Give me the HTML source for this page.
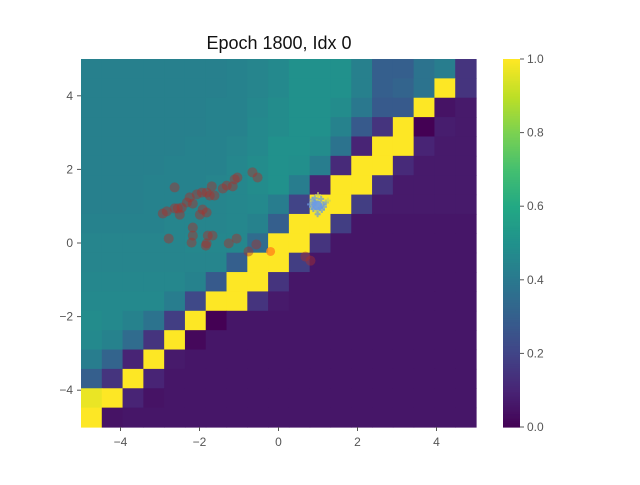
<!DOCTYPE html>
<html><head><meta charset="utf-8"><style>
body{margin:0;background:#fff;}
svg text{font-family:"Liberation Sans","DejaVu Sans",sans-serif;}
</style></head><body>
<svg id="chart" width="640" height="480" xmlns="http://www.w3.org/2000/svg">
<rect width="640" height="480" fill="#fff"/>
<text x="279" y="49" text-anchor="middle" font-size="18" fill="#111">Epoch 1800, Idx 0</text>
<g id="cells"></g><g id="pts"></g><g id="axes"></g><g id="cbar"></g>
</svg>
<script>
const gridRows = [
[.43,.43,.43,.43,.43,.43,.43,.44,.45,.47,.5,.5,.5,.43,.3,.3,.38,.42,.15],
[.43,.43,.43,.43,.43,.43,.43,.44,.45,.47,.5,.5,.5,.43,.3,.32,.38,1,.15],
[.43,.43,.43,.43,.43,.43,.44,.44,.46,.48,.5,.5,.48,.4,.28,.28,1,.05,.07],
[.43,.43,.43,.43,.43,.43,.44,.44,.47,.48,.5,.5,.44,.28,.15,1,0,.08,.07],
[.43,.43,.43,.43,.43,.44,.44,.45,.47,.5,.5,.48,.38,.1,1,1,.1,.07,.07],
[.43,.43,.43,.43,.44,.44,.44,.46,.48,.5,.49,.42,.12,1,1,.12,.07,.07,.07],
[.43,.43,.43,.44,.44,.44,.45,.46,.48,.5,.42,.1,1,1,.15,.07,.07,.07,.07],
[.43,.43,.43,.44,.44,.45,.45,.46,.47,.42,.2,1,1,.18,.07,.07,.07,.07,.07],
[.44,.44,.44,.44,.45,.45,.45,.46,.44,.3,1,1,.18,.06,.06,.06,.06,.06,.06],
[.45,.45,.45,.45,.45,.46,.46,.46,.35,1,1,.15,.06,.06,.06,.06,.06,.06,.06],
[.45,.45,.45,.45,.45,.45,.45,.3,1,1,.18,.06,.06,.06,.06,.06,.06,.06,.06],
[.46,.46,.46,.46,.46,.44,.28,1,1,.15,.06,.06,.06,.06,.06,.06,.06,.06,.06],
[.47,.47,.47,.47,.42,.22,1,1,.15,.07,.06,.06,.06,.06,.06,.06,.06,.06,.06],
[.48,.47,.44,.38,.18,1,0,.06,.06,.06,.06,.06,.06,.06,.06,.06,.06,.06,.06],
[.47,.44,.35,.15,1,.02,.06,.06,.06,.06,.06,.06,.06,.06,.06,.06,.06,.06,.06],
[.42,.32,.1,1,.07,.06,.06,.06,.06,.06,.06,.06,.06,.06,.06,.06,.06,.06,.06],
[.3,.15,1,.1,.06,.06,.06,.06,.06,.06,.06,.06,.06,.06,.06,.06,.06,.06,.06],
[.97,1,.1,.05,.06,.06,.06,.06,.06,.06,.06,.06,.06,.06,.06,.06,.06,.06,.06],
[1,.05,.06,.06,.06,.06,.06,.06,.06,.06,.06,.06,.06,.06,.06,.06,.06,.06,.06]
];
const redX = [-2.63,-0.66,-0.53,-1.04,-1.11,-1.16,-1.31,-1.41,-1.62,-1.69,-1.74,-1.82,-1.94,-2.07,-2.25,-2.17,-2.32,-2.45,-2.55,-2.63,-2.83,-2.93,-2.5,-1.92,-1.82,-1.99,-2.17,-2.17,-2.78,-1.79,-1.67,-1.06,-2.2,-1.82,-1.84,-1.26,-0.56,-0.76,0.68,0.81];
const redY = [1.51,1.92,1.78,1.78,1.73,1.54,1.56,1.48,1.29,1.54,1.29,1.37,1.37,1.32,1.24,1.07,1.1,0.96,0.94,0.94,0.86,0.8,0.77,0.91,0.83,0.77,0.42,0.2,0.12,0.2,0.2,0.12,0.01,-0.01,-0.07,-0.01,-0.04,-0.23,-0.37,-0.48];
const orangeX = [-0.2], orangeY = [-0.23];
const blueX = [0.98,0.9,1.05,1.0,0.85,1.12,0.95,1.08,0.92,1.02,0.8,1.2,0.97,1.1,0.88,1.0,1.15,0.93,1.04,0.99,0.86,1.25];
const blueY = [1.02,1.1,0.95,1.15,0.98,1.05,0.88,1.2,1.22,0.85,1.05,1.1,1.0,0.9,0.92,1.3,0.98,1.08,1.07,0.78,1.18,1.15];
const xTicks = [-4,-2,0,2,4], yTicks = [4,2,0,-2,-4], cTicks = [0,0.2,0.4,0.6,0.8,1.0];

const L=81,R=476,T=59,B=427;
const sx=v=>L+(v+5)/10*(R-L), sy=v=>T+(5-v)/10*(B-T);
const stops=[[68,1,84],[72,36,117],[65,68,135],[53,95,141],[42,120,142],[33,145,140],[34,168,132],[68,191,112],[122,209,81],[189,223,38],[253,231,37]];
function vir(t){t=Math.max(0,Math.min(1,t));const f=t*10,i=Math.min(9,Math.floor(f)),u=f-i;const a=stops[i],b=stops[i+1];
return `rgb(${Math.round(a[0]+(b[0]-a[0])*u)},${Math.round(a[1]+(b[1]-a[1])*u)},${Math.round(a[2]+(b[2]-a[2])*u)})`;}
const NS='http://www.w3.org/2000/svg';
function mk(tag,attrs,parent){const e=document.createElementNS(NS,tag);for(const k in attrs)e.setAttribute(k,attrs[k]);parent.appendChild(e);return e;}
const cells=document.getElementById('cells');
const n=gridRows.length, cw=(R-L)/n, ch=(B-T)/n;
gridRows.forEach((row,r)=>row.forEach((v,c)=>{
 const e=mk('rect',{x:L+c*cw,y:T+r*ch,width:cw+0.6,height:ch+0.6,fill:vir(v)},cells);
 
 
}));
const pts=document.getElementById('pts');
redX.forEach((x,i)=>{
 const e=mk('circle',{cx:sx(x),cy:sy(redY[i]),r:5,fill:'#a8302c','fill-opacity':0.45,stroke:'none'},pts);
 
 
});
orangeX.forEach((x,i)=>{
 const e=mk('circle',{cx:sx(x),cy:sy(orangeY[i]),r:4.5,fill:'#ff8c1a','fill-opacity':0.85},pts);
 
 
});
blueX.forEach((x,i)=>{
 const px=sx(x),py=sy(blueY[i]);
 const e=mk('path',{d:`M${px-3},${py}h6M${px},${py-3}v6`,stroke:i%3==0?'#c8d060':'#6a9ae0','stroke-width':2,'stroke-opacity':0.7},pts);
 
 
});
const blob=mk('circle',{cx:sx(0.98),cy:sy(1.02),r:5,fill:'#6a9ae8','fill-opacity':0.9},pts);


const ax=document.getElementById('axes');
xTicks.forEach(t=>{
 const x=sx(t);
 mk('line',{x1:x,x2:x,y1:B,y2:B+4,stroke:'#555'},ax);
 const e=mk('text',{x:x,y:B+19,'text-anchor':'middle','font-size':12,fill:'#555'},ax);
 e.textContent=t<0?'\u2212'+(-t):t;
 
 
});
yTicks.forEach(t=>{
 const y=sy(t);
 mk('line',{x1:L-4,x2:L,y1:y,y2:y,stroke:'#555'},ax);
 const e=mk('text',{x:L-8,y:y+4,'text-anchor':'end','font-size':12,fill:'#555'},ax);
 e.textContent=t<0?'\u2212'+(-t):t;
 
 
});
const cb=document.getElementById('cbar');
const CL=503,CR=520;
for(let i=0;i<200;i++){const y0=T+(B-T)*i/200;mk('rect',{x:CL,y:y0,width:CR-CL,height:(B-T)/200+0.6,fill:vir(1-i/200)},cb);}
cTicks.forEach(t=>{
 const y=B-(B-T)*t;
 mk('line',{x1:CR,x2:CR+4,y1:y,y2:y,stroke:'#555'},cb);
 const e=mk('text',{x:CR+7,y:y+4,'font-size':12,fill:'#555'},cb);
 e.textContent=t.toFixed(1);
 
 
});
</script>
</body></html>
